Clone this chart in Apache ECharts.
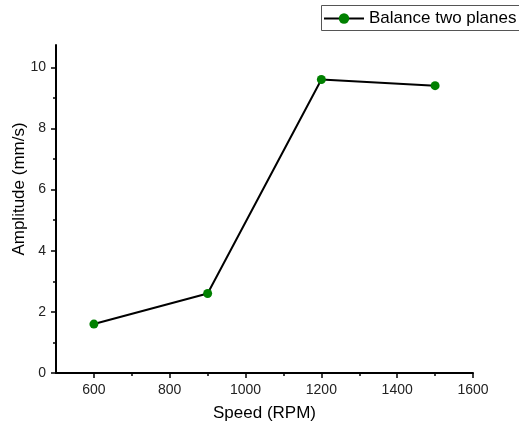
<!DOCTYPE html>
<html>
<head>
<meta charset="utf-8">
<script src="https://cdn.jsdelivr.net/npm/echarts@6/dist/echarts.min.js"></script>
<style>html,body{margin:0;padding:0;background:#fff}#c{width:519px;height:427px}</style>
</head>
<body>
<div id="c"></div>
<script>
const speeds = [600, 900, 1200, 1500];
const amplitudes = [1.6, 2.6, 9.6, 9.4];
const seriesName = 'Balance two planes';
const xMajorTicks = [600, 800, 1000, 1200, 1400, 1600];
const xMinorTicks = [700, 900, 1100, 1300, 1500];
const yMajorTicks = [0, 2, 4, 6, 8, 10];
const yMinorTicks = [1, 3, 5, 7, 9];

const font = 'Liberation Sans, Arial, sans-serif';
const chart = echarts.init(document.getElementById('c'));
const baseX = {
  type: 'value', min: 500, max: 1600, gridIndex: 0,
  splitLine: { show: false }
};
const baseY = {
  type: 'value', min: 0, max: 10.73, gridIndex: 0,
  splitLine: { show: false }
};
const plain = v => String(v);
chart.setOption({
  animation: false,
  backgroundColor: '#fff',
  grid: { left: 56, right: 46, top: 45, bottom: 54, containLabel: false, outerBoundsMode: 'none' },
  graphic: [{
    type: 'rect', silent: true, z: 0,
    shape: { x: 321.5, y: 5.5, width: 230, height: 25 },
    style: { fill: 'none', stroke: '#555', lineWidth: 1 }
  }],
  legend: {
    left: 322, top: 7,
    padding: [3, 2, 3, 1],
    borderWidth: 0,
    itemWidth: 40, itemHeight: 13,
    textStyle: { fontFamily: font, fontSize: 17, color: '#000' },
    data: [seriesName]
  },
  xAxis: [
    Object.assign({}, baseX, {
      name: 'Speed (RPM)', nameLocation: 'middle', nameGap: 32, nameMoveOverlap: false,
      nameTextStyle: { fontFamily: font, fontSize: 17, color: '#000' },
      axisLine: { lineStyle: { color: '#000', width: 2 } },
      axisTick: { show: true, inside: false, length: 5, lineStyle: { color: '#000', width: 1.5 }, customValues: xMajorTicks },
      axisLabel: { fontFamily: font, fontSize: 14, color: '#222', margin: 10, customValues: xMajorTicks, formatter: plain }
    }),
    Object.assign({}, baseX, {
      position: 'bottom',
      axisLine: { show: false },
      axisTick: { show: true, inside: false, length: 3, lineStyle: { color: '#000', width: 1.5 }, customValues: xMinorTicks },
      axisLabel: { show: false }
    })
  ],
  yAxis: [
    Object.assign({}, baseY, {
      name: 'Amplitude (mm/s)', nameLocation: 'middle', nameGap: 28, nameMoveOverlap: false,
      nameTextStyle: { fontFamily: font, fontSize: 17, color: '#000', padding: [0, 0, 0, 40] },
      axisLine: { lineStyle: { color: '#000', width: 2 } },
      axisTick: { show: true, inside: false, length: 5, lineStyle: { color: '#000', width: 1.5 }, customValues: yMajorTicks },
      axisLabel: { fontFamily: font, fontSize: 14, color: '#222', margin: 10, customValues: yMajorTicks, formatter: plain }
    }),
    Object.assign({}, baseY, {
      position: 'left',
      axisLine: { show: false },
      axisTick: { show: true, inside: false, length: 3, lineStyle: { color: '#000', width: 1.5 }, customValues: yMinorTicks },
      axisLabel: { show: false }
    })
  ],
  series: [{
    name: seriesName,
    type: 'line',
    xAxisIndex: 0, yAxisIndex: 0,
    data: speeds.map((s, i) => [s, amplitudes[i]]),
    symbol: 'circle', symbolSize: 9,
    lineStyle: { color: '#000', width: 2 },
    itemStyle: { color: '#008000', borderWidth: 0 }
  }]
});
</script>
</body>
</html>
